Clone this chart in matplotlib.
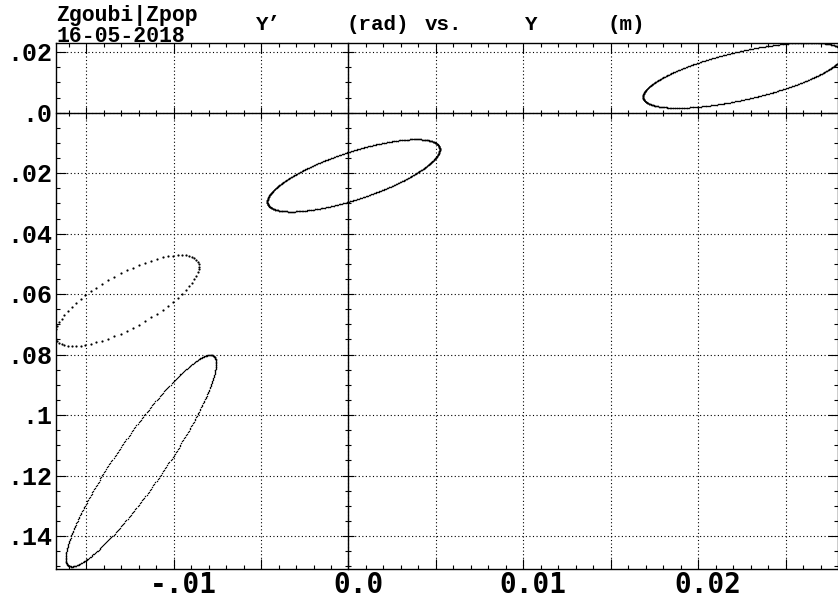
import numpy as np
import matplotlib
matplotlib.use("Agg")
import matplotlib.pyplot as plt
from matplotlib.ticker import MultipleLocator
from matplotlib.transforms import blended_transform_factory, offset_copy

# Phase-space ellipses Y' (rad) vs Y (m): centre, half-widths and phase
ell_yc = [0.000285, -0.01268, -0.01187, 0.02258]      # Y centre (m)
ell_ypc = [-0.02075, -0.06215, -0.1151, 0.0124]       # Y' centre (rad)
ell_ay = [0.00493, 0.00412, 0.00430, 0.00573]         # Y half-width (m)
ell_ayp = [0.01195, 0.01505, 0.0350, 0.0108]          # Y' half-width (rad)
ell_phase = [0.76, 0.727, 0.40, 0.855]                # Y-Y' correlation phase
ell_npts = [700, 72, 420, 700]                        # particles per ellipse

x_tick_values = [-0.01, 0.0, 0.01, 0.02]
x_tick_labels = ["-.01", "0.0", "0.01", "0.02"]
y_tick_values = [0.02, 0.0, -0.02, -0.04, -0.06, -0.08, -0.10, -0.12, -0.14]
y_tick_labels = [".02", ".0", ".02", ".04", ".06", ".08", ".1", ".12", ".14"]

W_PX, H_PX = 838, 601
fig = plt.figure(figsize=(W_PX / 100, H_PX / 100), dpi=100)
fig.patch.set_facecolor("white")

left_px, right_px, top_px, bottom_px = 56, 837.5, 42.7, 569
ax = fig.add_axes([left_px / W_PX, 1 - bottom_px / H_PX,
                   (right_px - left_px) / W_PX, (bottom_px - top_px) / H_PX])
ax.set_xlim(-0.01673, 0.02797)
ax.set_ylim(-0.1509, 0.02315)

ax.xaxis.set_major_locator(MultipleLocator(0.005))
ax.xaxis.set_minor_locator(MultipleLocator(0.001))
ax.yaxis.set_major_locator(MultipleLocator(0.02))
ax.yaxis.set_minor_locator(MultipleLocator(0.005))
ax.tick_params(which="both", direction="in", top=True, right=True,
               labelbottom=False, labelleft=False, color="black", width=0.8)
ax.tick_params(which="major", length=7)
ax.tick_params(which="minor", length=3)
ax.grid(which="major", linestyle=(0, (1, 2.2)), color="black", linewidth=0.8)
for s in ax.spines.values():
    s.set_color("black")
    s.set_linewidth(1.0)

# particle tracks
for yc, ypc, ay, ayp, ph, n in zip(ell_yc, ell_ypc, ell_ay, ell_ayp, ell_phase, ell_npts):
    t = np.linspace(0, 2 * np.pi, n, endpoint=False)
    y = yc + ay * np.cos(t)
    yp = ypc + ayp * np.cos(t + ph)
    ms = 1.6 if n < 100 else 1.05
    ax.plot(y, yp, linestyle="none", marker="o", markersize=ms,
            markeredgewidth=0, color="black", zorder=3)

# central axes through the origin with crossing ticks
ax2 = fig.add_axes(ax.get_position(), sharex=ax, sharey=ax)
ax2.patch.set_visible(False)
ax2.spines["top"].set_visible(False)
ax2.spines["right"].set_visible(False)
ax2.spines["left"].set_position(("data", 0))
ax2.spines["bottom"].set_position(("data", 0))
for s in ("left", "bottom"):
    ax2.spines[s].set_color("black")
    ax2.spines[s].set_linewidth(1.0)
ax2.tick_params(which="both", direction="inout", labelbottom=False,
                labelleft=False, color="black", width=0.8)
ax2.tick_params(which="major", length=9)
ax2.tick_params(which="minor", length=5)
ax2.grid(False)

# tick labels
xtr = offset_copy(blended_transform_factory(ax.transData, ax.transAxes),
                  fig=fig, x=10, y=-2, units="dots")
for v, lab in zip(x_tick_values, x_tick_labels):
    ax.text(v, 0, lab, transform=xtr, ha="center", va="top",
            family="DejaVu Sans Mono", weight="bold", fontsize=20, clip_on=False)

ytr = offset_copy(blended_transform_factory(ax.transAxes, ax.transData),
                  fig=fig, x=-4, y=-2, units="dots")
for v, lab in zip(y_tick_values, y_tick_labels):
    ax.text(0, v, lab, transform=ytr, ha="right", va="center",
            family="Liberation Mono", weight="bold", fontsize=18, clip_on=False)

# header
hdr = dict(family="Liberation Mono", weight="bold", color="black")
fig.text(56 / W_PX, 1 - 20.5 / H_PX, "Zgoubi|Zpop", fontsize=15.5, **hdr)
fig.text(56 / W_PX, 1 - 41.5 / H_PX, "16-05-2018", fontsize=15.5, **hdr)
for xp, word in [(256, "Y\u2019"), (346, "(rad)"), (425, "vs."), (525, "Y"), (607, "(m)")]:
    fig.text(xp / W_PX, 1 - 30 / H_PX, word, fontsize=15, **hdr)

fig.savefig("out.png", dpi=100, facecolor="white")
